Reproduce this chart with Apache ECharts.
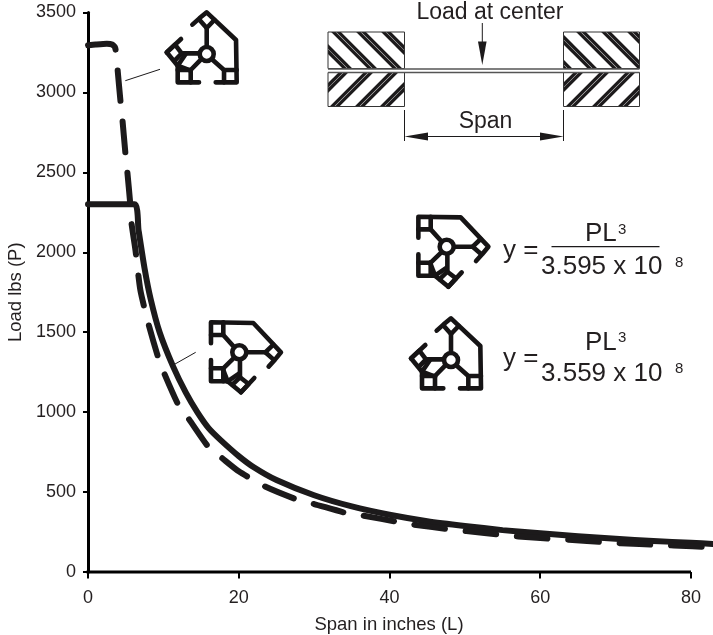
<!DOCTYPE html>
<html><head><meta charset="utf-8">
<style>html,body{margin:0;padding:0;background:#fff}#c{width:713px;height:635px}</style>
<script src="https://cdn.jsdelivr.net/npm/echarts@6/dist/echarts.min.js"></script>
</head><body><div id="c"></div>
<script>
const solidSpan=[0,6.2,6.7,7.5,8.3,9.5,11.3,13,14.5,16,17.6,20,22,25,30,35,40,45,50,55,60,65,70,75,80,82.9];
const solidLoad=[2300,2300,2140,1900,1710,1500,1285,1120,1000,900,825,725,655,575,480,410,358,318,288,262,243,224,208,194,183,175];
const dashSpan=[0,1,2.5,3.2,3.6,3.85,3.95,4.3,4.55,4.95,5.2,5.6,5.75,6.3,6.95,8,9.3,10.1,12,13.3,16,17.8,20,23.4,27.9,30,34.5,36.6,41.2,43.3,48.1,50.2,55,57.1,62,63.8,68.6,70.7,75.6,77.7,82.9];
const dashLoad=[3295,3300,3305,3300,3280,3200,3130,2950,2838,2625,2512,2306,2190,2012,1762,1556,1344,1244,1044,962,781,712,630,537,450,425,366,352,312,296,266,256,232,222,206,202,187,180,170,166,155];
const xTicks=[0,20,40,60,80];
const yTicks=[0,500,1000,1500,2000,2500,3000,3500];
const xTitle='Span in inches (L)';
const yTitle='Load lbs (P)';
const xLimit=82.92;

const INK='#1c1a1b';
const els=[];
const line=(x1,y1,x2,y2,w,c)=>els.push({type:'line',silent:true,shape:{x1,y1,x2,y2},style:{stroke:c||INK,lineWidth:w||1,lineCap:'butt'}});
const poly=(pts,fill)=>els.push({type:'polygon',silent:true,shape:{points:pts},style:{fill:fill||INK}});
const txt=(t,x,y,size,align)=>els.push({type:'text',silent:true,style:{text:t,x,y,fill:'#231f20',font:size+'px "Liberation Sans"',textAlign:align||'center',textVerticalAlign:'middle'}});

// x axis rule stops at the last tick while the curves run on past it
line(86.5,572,691,572,3,'#000');

// hatched blocks
function clipHalf(pts,f){const o=[];for(let i=0;i<pts.length;i++){const a=pts[i],b=pts[(i+1)%pts.length],fa=f(a),fb=f(b);
  if(fa>=0)o.push(a);if(fa*fb<0){const t=fa/(fa-fb);o.push([a[0]+(b[0]-a[0])*t,a[1]+(b[1]-a[1])*t]);}}return o;}
function block(x0,x1,y0,y1,sign,cs){
  const rect=[[x0,y0],[x1,y0],[x1,y1],[x0,y1]];
  const w=4.9;
  cs.forEach(c=>{
    const g=p=>p[0]+sign*p[1]-c;
    let q=clipHalf(rect,p=>w-g(p));q=clipHalf(q,p=>g(p)+w);
    if(q.length>2)poly(q);
    let h=clipHalf(rect,p=>0.35-g(p));h=clipHalf(h,p=>g(p)+0.35);
    if(h.length>2)poly(h,'#e8e8e8');
  });
  els.push({type:'polygon',silent:true,shape:{points:rect},style:{fill:'none',stroke:'#333',lineWidth:1}});
}
block(328,404.5,32,68.5,-1,[279,304,329,354]);
block(328,404.5,72.5,106.5,1,[416,441,466,491]);
block(563.5,639.5,32,68.5,-1,[499,524,549,574,600]);
block(563.5,639.5,72.5,106.5,1,[651,677,703,729]);
line(328,69,639.5,69,1.5,'#555');
line(328,72.5,639.5,72.5,1.5,'#555');
// load arrow
line(482.3,23,482.3,45,1,INK);
poly([[478,41.5],[486.6,41.5],[482.3,65]]);
// span dimension
line(404.5,110,404.5,141,1,INK);
line(563.5,110,563.5,141,1,INK);
line(425,136.5,545,136.5,1,INK);
poly([[404.5,136.5],[428,132.5],[428,140.5]]);
poly([[563.5,136.5],[540,132.5],[540,140.5]]);
txt('Load at center',490,13,23);
txt('Span',485.5,122,23);

// extrusion profile icons
const wallPaths=[
 [[112,62],[133,43],[155,25],[243,108],[245,235],[182,235]],
 [[133,47],[155,72],[178,48]],
 [[155,72],[155,130]],
 [[132,235],[68,235],[68,185],[35,145],[60,122],[80,148],[57,172]],
 [[35,145],[78,105]],
 [[80,148],[135,148]],
 [[68,185],[92,150]],
 [[68,185],[107,200]],
 [[68,198],[107,198],[107,235]],
 [[107,198],[141,163]],
 [[169,164],[207,198],[245,198]],
 [[207,198],[207,235]]
];
function icon(hx,hy,mirror){
  const m=p=>{const dx=(p[0]-155)/3,dy=(p[1]-150)/3;return mirror?[hx-dy,hy-dx]:[hx+dx,hy+dy];};
  wallPaths.forEach(pth=>els.push({type:'polyline',silent:true,shape:{points:pth.map(m)},style:{fill:'none',stroke:'#161415',lineWidth:4.6,lineCap:'round',lineJoin:'round'}}));
  els.push({type:'circle',silent:true,shape:{cx:hx,cy:hy,r:7},style:{fill:'#fff',stroke:'#161415',lineWidth:4.6}});
}
icon(206.7,54,false);
icon(451,360,false);
icon(446.7,246.7,true);
icon(239.3,352.3,true);
line(125.3,80.7,160,69.3,1,INK);
line(173.3,365,195.7,352.3,1,INK);

// equations
txt('y =',503,251,26,'left');
txt('PL',585,234,26,'left');
txt('3',618,229.5,15,'left');
line(551.5,246.7,659.5,246.7,1.2,INK);
txt('3.595 x 10',541,267,26,'left');
txt('8',675,263,15,'left');
txt('y =',503,359,26,'left');
txt('PL',585,342.5,26,'left');
txt('3',618,338,15,'left');
txt('3.559 x 10',541,374,26,'left');
txt('8',675,369,15,'left');

const chart=echarts.init(document.getElementById('c'),null,{renderer:'canvas'});
const axisCommon={
  axisLine:{show:true,lineStyle:{color:'#000',width:3}},
  axisTick:{show:true,length:5,lineStyle:{color:'#000',width:2}},
  splitLine:{show:false},
  nameLocation:'middle'
};
const nameFont={fontFamily:'Liberation Sans',fontSize:18.5,color:'#231f20'};
chart.setOption({
  animation:false,
  backgroundColor:'#fff',
  grid:{left:88,right:0,top:12.5,bottom:63,outerBoundsMode:'none'},
  xAxis:Object.assign({},axisCommon,{type:'value',min:xTicks[0],max:xLimit,interval:20,name:xTitle,nameGap:43,
    nameTextStyle:Object.assign({padding:[0,23,0,0]},nameFont),
    axisLine:{show:false},
    axisTick:{show:true,length:6.5,customValues:xTicks,lineStyle:{color:'#000',width:2}},
    axisLabel:{fontFamily:'Liberation Sans',fontSize:18,color:'#231f20',margin:17,customValues:xTicks,formatter:v=>String(v)}}),
  yAxis:Object.assign({},axisCommon,{type:'value',min:yTicks[0],max:yTicks[yTicks.length-1],interval:500,name:yTitle,nameGap:63,
    nameTextStyle:nameFont,
    axisLabel:{fontFamily:'Liberation Sans',fontSize:18,color:'#231f20',margin:12,formatter:v=>String(v)}}),
  series:[
    {name:'solid',type:'line',clip:false,symbol:'none',smooth:0.2,data:solidSpan.map((v,i)=>[v,solidLoad[i]]),
     lineStyle:{color:'#1c1a1b',width:6,cap:'round',join:'round'}},
    {name:'dashed',type:'line',clip:false,symbol:'none',smooth:0.2,data:dashSpan.map((v,i)=>[v,dashLoad[i]]),
     lineStyle:{color:'#1c1a1b',width:6,type:[30.8,20.7],cap:'round',join:'round'}}
  ],
  graphic:els
});
</script></body></html>
